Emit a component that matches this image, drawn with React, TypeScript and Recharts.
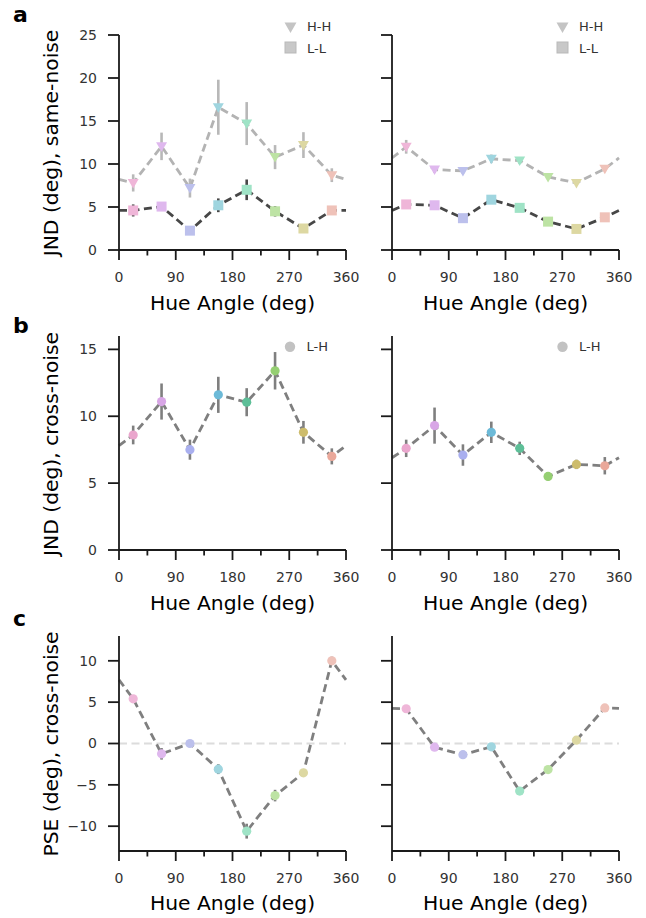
import React from "react";
import {
  ComposedChart,
  ErrorBar,
  Line,
  ReferenceLine,
  Scatter,
  XAxis,
  YAxis,
} from "recharts";

// hue angles of the 8 tested colours
const hues = [22.5, 67.5, 112.5, 157.5, 202.5, 247.5, 292.5, 337.5];
const xTicks = [0, 45, 90, 135, 180, 225, 270, 315, 360];

const lightColors = ["#efb6d8", "#dfb8ee", "#bcc0ec", "#9fd5df", "#9fe3c6", "#bde3a4", "#ddd8a2", "#efc2b9"];
const strongColors = ["#eaa6cd", "#d8a6e6", "#a9afef", "#6cbad8", "#5ebf98", "#95cf72", "#cdbc6c", "#eaa89a"];

// a: JND same-noise
const aTicks = [0, 5, 10, 15, 20, 25];
const aLeftHH = [7.8, 12.05, 7.2, 16.6, 14.7, 10.8, 12.2, 8.7];
const aLeftHHErr = [1.0, 1.6, 1.1, 3.2, 2.5, 1.4, 1.5, 0.8];
const aLeftHHEdge = 8.2;
const aLeftLL = [4.6, 5.05, 2.25, 5.2, 7.0, 4.5, 2.5, 4.6];
const aLeftLLErr = [0.7, 0.4, 0.3, 0.8, 1.2, 0.6, 0.3, 0.4];
const aLeftLLEdge = 4.6;
const aRightHH = [12.0, 9.35, 9.2, 10.6, 10.4, 8.5, 7.8, 9.45];
const aRightHHErr = [0.8, 0.4, 0.35, 0.5, 0.4, 0.3, 0.3, 0.3];
const aRightHHEdge = 10.7;
const aRightLL = [5.3, 5.2, 3.7, 5.85, 4.9, 3.3, 2.45, 3.8];
const aRightLLErr = [0.3, 0.3, 0.3, 0.3, 0.3, 0.3, 0.3, 0.3];
const aRightLLEdge = 4.6;

// b: JND cross-noise
const bTicks = [0, 5, 10, 15];
const bLeft = [8.6, 11.1, 7.5, 11.6, 11.05, 13.4, 8.8, 7.0];
const bLeftErr = [0.7, 1.35, 0.75, 1.35, 1.05, 1.4, 0.85, 0.6];
const bLeftEdge = 7.8;
const bRight = [7.6, 9.3, 7.1, 8.8, 7.6, 5.5, 6.4, 6.3];
const bRightErr = [0.65, 1.35, 0.8, 0.8, 0.5, 0.3, 0.35, 0.65];
const bRightEdge = 6.9;

// c: PSE cross-noise
const cTicks = [-10, -5, 0, 5, 10];
const cLeft = [5.4, -1.25, 0.0, -3.1, -10.6, -6.3, -3.55, 10.0];
const cLeftErr = [0.4, 0.7, 0.3, 0.6, 0.9, 0.7, 0.3, 0.5];
const cLeftEdge = 7.7;
const cRight = [4.2, -0.45, -1.35, -0.4, -5.75, -3.15, 0.4, 4.3];
const cRightErr = [0.3, 0.3, 0.3, 0.3, 0.3, 0.3, 0.3, 0.3];
const cRightEdge = 4.25;

const FONT = "DejaVu Sans";
const INK = "#1a1a1a";

const toPoints = (vals: number[], errs: number[], colors: string[]) =>
  hues.map((x, i) => ({ x, y: vals[i], err: errs[i], color: colors[i] }));

const toLine = (vals: number[], edge: number) => [
  { x: 0, y: edge },
  ...hues.map((x, i) => ({ x, y: vals[i] })),
  { x: 360, y: edge },
];

const Square = (p: any) => (
  <rect x={p.cx - 5} y={p.cy - 5} width={10} height={10} fill={p.payload.color} />
);
const TriDown = (p: any) => (
  <polygon
    points={`${p.cx - 5.5},${p.cy - 4} ${p.cx + 5.5},${p.cy - 4} ${p.cx},${p.cy + 5.5}`}
    fill={p.payload.color}
  />
);
const Dot = (p: any) => <circle cx={p.cx} cy={p.cy} r={4.6} fill={p.payload.color} />;

function XTick({ x, y, payload }: any) {
  const major = payload.value % 90 === 0;
  return (
    <g>
      <line x1={x} x2={x} y1={y} y2={y + (major ? 10 : 5.5)} stroke={INK} strokeWidth={1.8} />
      {major && (
        <text x={x} y={y + 31.7} textAnchor="middle" fontSize={14} fill="#333" fontFamily={FONT}>
          {payload.value}
        </text>
      )}
    </g>
  );
}

type Series = {
  vals: number[];
  errs: number[];
  edge: number;
  stroke: string;
  errStroke: string;
  shape: any;
  colors: string[];
};

type PanelProps = {
  left: number;
  top: number;
  side: "left" | "right";
  marginTop: number;
  plotHeight: number;
  domain: [number, number];
  ticks: number[];
  series: Series[];
  zeroLine?: boolean;
};

function Panel({ left, top, side, marginTop, plotHeight, domain, ticks, series, zeroLine }: PanelProps) {
  const isLeft = side === "left";
  const width = isLeft ? 360 : 286;
  const yw = isLeft ? 119 : 32;
  const mr = isLeft ? 14 : 27;
  const height = marginTop + plotHeight + 40;
  return (
    <div style={{ position: "absolute", left, top }}>
      <ComposedChart width={width} height={height} margin={{ top: marginTop, right: mr, bottom: 0, left: 0 }}>
        <XAxis
          type="number"
          dataKey="x"
          domain={[0, 360]}
          ticks={xTicks}
          interval={0}
          height={40}
          tickSize={0}
          tickMargin={0}
          tickLine={false}
          axisLine={{ stroke: INK, strokeWidth: 1.8 }}
          tick={(p: any) => <XTick {...p} />}
        />
        <YAxis
          type="number"
          domain={domain}
          ticks={ticks}
          width={yw}
          tickSize={11}
          tickMargin={11}
          interval={0}
          axisLine={{ stroke: INK, strokeWidth: 1.8 }}
          tickLine={{ stroke: INK, strokeWidth: 1.8 }}
          tick={{ fontSize: 14, fill: "#333", fontFamily: FONT }}
          tickFormatter={(v: number) => (!isLeft ? "" : v < 0 ? `\u2212${-v}` : `${v}`)}
        />
        {zeroLine && (
          <ReferenceLine y={0} stroke="#dcdcdc" strokeWidth={2.2} strokeDasharray="8 4.5" />
        )}
        {series.flatMap((s, i) => [
          <Line
            key={`l${i}`}
            data={toLine(s.vals, s.edge)}
            dataKey="y"
            type="linear"
            stroke={s.stroke}
            strokeWidth={2.8}
            strokeDasharray="8 4.5"
            dot={false}
            activeDot={false}
            isAnimationActive={false}
          />,
          <Scatter
            key={`s${i}`}
            data={toPoints(s.vals, s.errs, s.colors)}
            dataKey="y"
            shape={s.shape}
            isAnimationActive={false}
          >
            <ErrorBar dataKey="err" direction="y" width={0} stroke={s.errStroke} strokeWidth={2.6} />
          </Scatter>,
        ])}
      </ComposedChart>
    </div>
  );
}

const hh = (vals: number[], errs: number[], edge: number): Series => ({
  vals, errs, edge, stroke: "#b3b3b3", errStroke: "#b8b8b8", shape: TriDown, colors: lightColors,
});
const ll = (vals: number[], errs: number[], edge: number): Series => ({
  vals, errs, edge, stroke: "#474747", errStroke: "#474747", shape: Square, colors: lightColors,
});
const lh = (vals: number[], errs: number[], edge: number, colors: string[]): Series => ({
  vals, errs, edge, stroke: "#7f7f7f", errStroke: "#7f7f7f", shape: Dot, colors,
});

function Legend2({ x, y }: { x: number; y: number }) {
  return (
    <g fontFamily={FONT} fontSize={13}>
      <polygon points={`${x - 6},${y - 4.5} ${x + 6},${y - 4.5} ${x},${y + 6}`} fill="#c4c4c4" />
      <text x={x + 16.5} y={y + 4} fill="#333">H-H</text>
      <rect x={x - 5.5} y={y + 15} width={11} height={11} fill="#c8c8c8" stroke="#b9b9b9" strokeWidth={1} />
      <text x={x + 16.5} y={y + 25.5} fill="#333">L-L</text>
    </g>
  );
}

function Legend1({ x, y }: { x: number; y: number }) {
  return (
    <g fontFamily={FONT} fontSize={13}>
      <circle cx={x} cy={y} r={5.2} fill="#c2c2c2" />
      <text x={x + 16.5} y={y + 4.7} fill="#333">L-H</text>
    </g>
  );
}

function Titles() {
  const rows = [
    { letter: "a", ly: 22, label: "JND (deg), same-noise", cy: 143, xb: 310 },
    { letter: "b", ly: 333, label: "JND (deg), cross-noise", cy: 444, xb: 610 },
    { letter: "c", ly: 626, label: "PSE (deg), cross-noise", cy: 744, xb: 910 },
  ];
  return (
    <svg width={646} height={918} style={{ position: "absolute", left: 0, top: 0, pointerEvents: "none" }}>
      <g fontFamily={FONT}>
        {rows.map((r) => (
          <g key={r.letter}>
            <text x={13} y={r.ly} fontSize={22} fontWeight="bold" fill="#000">{r.letter}</text>
            <text
              x={58}
              y={r.cy}
              fontSize={20.3}
              fill="#000"
              textAnchor="middle"
              transform={`rotate(-90 58 ${r.cy})`}
            >
              {r.label}
            </text>
            <text x={232.5} y={r.xb} fontSize={20.3} fill="#000" textAnchor="middle">Hue Angle (deg)</text>
            <text x={505.5} y={r.xb} fontSize={20.3} fill="#000" textAnchor="middle">Hue Angle (deg)</text>
          </g>
        ))}
      </g>
      <Legend2 x={290.5} y={27} />
      <Legend2 x={562.5} y={27} />
      <Legend1 x={290} y={346.7} />
      <Legend1 x={562.5} y={346.7} />
    </svg>
  );
}

export default function App() {
  return (
    <div style={{ position: "absolute", left: 0, top: 0, width: 646, height: 918, background: "#fff" }}>
      <Panel left={0} top={0} side="left" marginTop={35} plotHeight={215} domain={[0, 25]} ticks={aTicks}
        series={[hh(aLeftHH, aLeftHHErr, aLeftHHEdge), ll(aLeftLL, aLeftLLErr, aLeftLLEdge)]} />
      <Panel left={360} top={0} side="right" marginTop={35} plotHeight={215} domain={[0, 25]} ticks={aTicks}
        series={[hh(aRightHH, aRightHHErr, aRightHHEdge), ll(aRightLL, aRightLLErr, aRightLLEdge)]} />
      <Panel left={0} top={300} side="left" marginTop={36} plotHeight={214} domain={[0, 16]} ticks={bTicks}
        series={[lh(bLeft, bLeftErr, bLeftEdge, strongColors)]} />
      <Panel left={360} top={300} side="right" marginTop={36} plotHeight={214} domain={[0, 16]} ticks={bTicks}
        series={[lh(bRight, bRightErr, bRightEdge, strongColors)]} />
      <Panel left={0} top={600} side="left" marginTop={36} plotHeight={215} domain={[-13, 13]} ticks={cTicks}
        zeroLine series={[lh(cLeft, cLeftErr, cLeftEdge, lightColors)]} />
      <Panel left={360} top={600} side="right" marginTop={36} plotHeight={215} domain={[-13, 13]} ticks={cTicks}
        zeroLine series={[lh(cRight, cRightErr, cRightEdge, lightColors)]} />
      <Titles />
    </div>
  );
}
